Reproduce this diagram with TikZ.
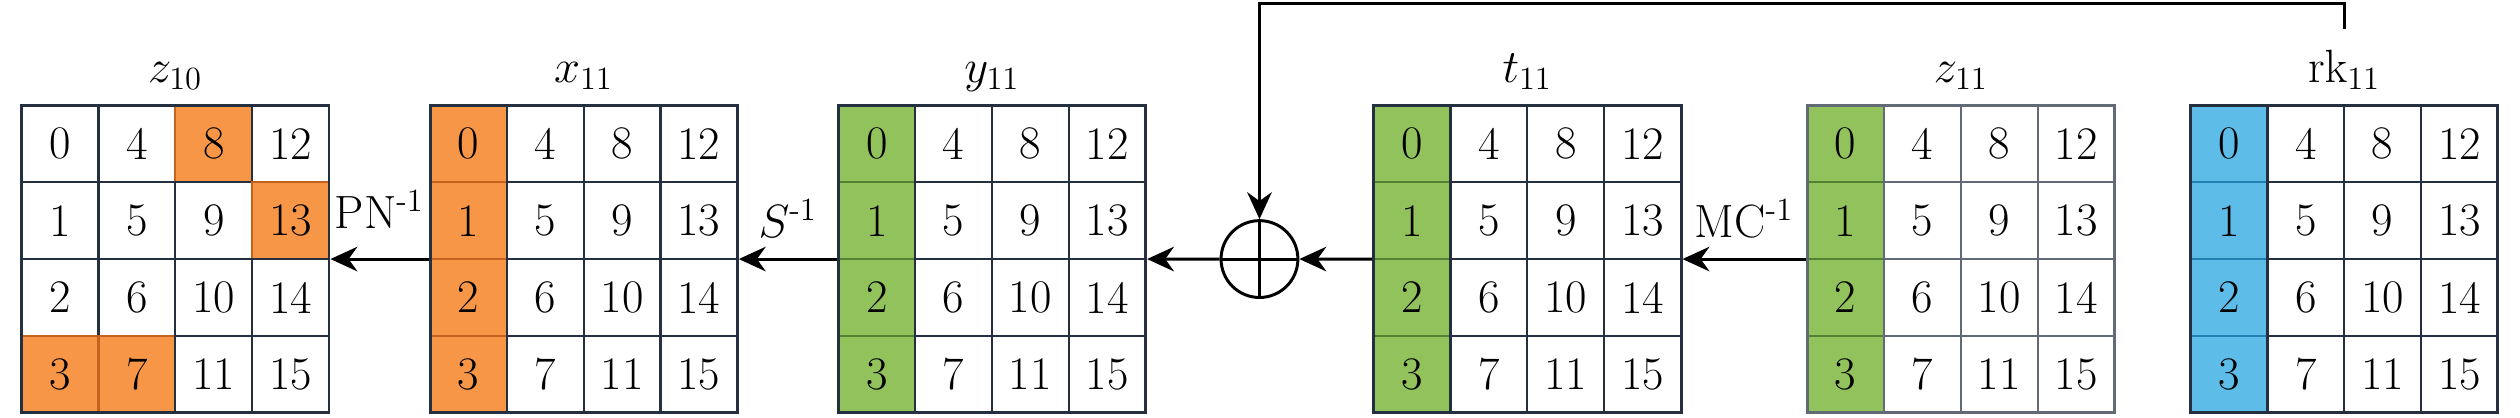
\documentclass[tikz,border=0pt]{standalone}
\usepackage{amsmath}
\usepackage{amssymb}
\usepackage{tikz}
\usetikzlibrary{arrows.meta,fit}

\definecolor{gridc}{RGB}{36,48,64}
\definecolor{fadec}{RGB}{98,106,118}
\definecolor{orfill}{RGB}{247,150,70}
\definecolor{ordraw}{RGB}{196,98,30}
\definecolor{grfill}{RGB}{146,194,92}
\definecolor{grdraw}{RGB}{84,128,50}
\definecolor{blfill}{RGB}{94,188,232}
\definecolor{bldraw}{RGB}{36,128,178}

% 4x4 state: name, left x, title, line colour
\newcommand{\stategrid}[4]{%
  \foreach \c in {0,...,3}{
    \foreach \r in {0,...,3}{
      \pgfmathtruncatemacro{\n}{4*\c+\r}
      \node[cell, draw=#4, #1-c\c/.try, #1-\n/.try] (#1-\n) at (#2+\c+0.5,3.5-\r) {\n};
    }
  }
  \node[fit=(#1-0)(#1-15), inner sep=0pt, draw=#4, line width=1.1pt] (#1) {};
  \node[anchor=base] (#1-t) at (#2+2,4.295) {#3};
}

\begin{document}
\begin{tikzpicture}[every node/.style={font=\LARGE},
  cell/.style={minimum size=1cm, inner sep=0pt, outer sep=0pt, line width=0.8pt, fill=white},
  hlorange/.style={fill=orfill, draw=ordraw},
  hlgreen/.style={fill=grfill, draw=grdraw},
  hlblue/.style={fill=blfill, draw=bldraw},
  z10-8/.style=hlorange, z10-13/.style=hlorange,
  z10-3/.style=hlorange, z10-7/.style=hlorange,
  x11-c0/.style=hlorange,
  y11-c0/.style=hlgreen, t11-c0/.style=hlgreen, z11-c0/.style=hlgreen,
  rk11-c0/.style=hlblue,
  xorc/.style={circle, draw, line width=1.1pt, minimum size=1cm, inner sep=0pt},
  arr/.style={-{Stealth[length=3.5mm,width=3.2mm]}, line width=1.1pt},
  lbl/.style={anchor=base, yshift=2.8mm}]
\useasboundingbox (0,-0.056) rectangle (32.80,5.372);

% States
\stategrid{z10}{0.282}{$z_{10}$}{gridc}
\stategrid{x11}{5.597}{$x_{11}$}{gridc}
\stategrid{y11}{10.911}{$y_{11}$}{gridc}
\stategrid{t11}{17.880}{$t_{11}$}{gridc}
\stategrid{z11}{23.523}{$z_{11}$}{fadec}
\stategrid{rk11}{28.512}{$\mathrm{rk}_{11}$}{gridc}

% Key addition
\node[xorc] (xor) at (16.393,2) {};
\draw[line width=1.1pt] (xor.north) -- (xor.south) (xor.west) -- (xor.east);

% Inverse round
\draw[arr] (z11.west) -- node[lbl] (mcinv) {MC\textsuperscript{-1}} (t11.east);
\draw[arr] (t11.west) -- (xor.east);
\draw[arr] (xor.west) -- (y11.east);
\draw[arr] (y11.west) -- node[lbl] (sinv) {$S$\textsuperscript{-1}} (x11.east);
\draw[arr] (x11.west) -- node[lbl, yshift=1.2mm] (pninv) {PN\textsuperscript{-1}} (z10.east);

% Round key
\coordinate (fb) at ([yshift=7mm]rk11-t.base);
\draw[arr] (fb) -- ++(0,0.33) -| (xor.north);
\end{tikzpicture}
\end{document}
